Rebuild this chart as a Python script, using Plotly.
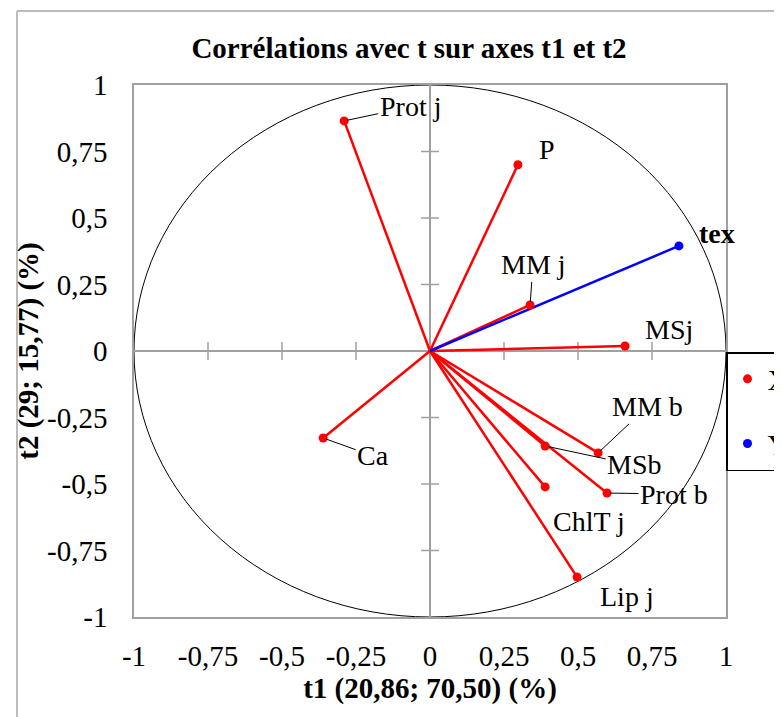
import plotly.graph_objects as go

# ---- data ----
var_names = ["Prot j", "P", "MM j", "MSj", "MM b", "MSb", "Prot b", "ChlT j", "Lip j", "Ca"]
var_t1 = [-0.290, 0.297, 0.338, 0.659, 0.568, 0.389, 0.598, 0.389, 0.497, -0.361]
var_t2 = [0.865, 0.700, 0.173, 0.019, -0.383, -0.357, -0.534, -0.511, -0.850, -0.327]

resp_names = ["tex"]
resp_t1 = [0.841]
resp_t2 = [0.395]

tick_vals = [-1, -0.75, -0.5, -0.25, 0, 0.25, 0.5, 0.75, 1]
tick_text = ["-1", "-0,75", "-0,5", "-0,25", "0", "0,25", "0,5", "0,75", "1"]

title_text = "Corrélations avec t sur axes t1 et t2"
x_title = "t1 (20,86; 70,50) (%)"
y_title = "t2 (29; 15,77) (%)"

# ---- styles / layout ----
FONT = "Liberation Serif"
RED = "#ff0000"
BLUE = "#0000ff"
GRID = "#a0a0a0"
W, H = 782, 717
OFF = 8                      # page body margin offset in the browser
PL, PT, PR, PB = 134, 85, 726, 617   # plot-area edges on screen
ML, MT = PL - OFF, PT - OFF
MR, MB = W + OFF - PR, H + OFF - PB
PW, PH = PR - PL, PB - PT

def px_to_paper_x(sx):
    return (sx - PL) / PW

def px_to_paper_y(sy):
    return (PB - sy) / PH

# label placement: name -> (dx px, dy px (down +), leader line?)
label_pos = {
    "Prot j": (66, -14, True),
    "P": (29, -15, False),
    "MM j": (3, -40, True),
    "MSj": (44, -16, False),
    "MM b": (49, -46, True),
    "MSb": (89, 19, True),
    "Prot b": (67, 1, True),
    "ChlT j": (44, 35, False),
    "Lip j": (50, 19, False),
    "Ca": (50, 18, True),
    "tex": (38, -12, False),
}

fig = go.Figure()

# cross tick marks on the zero lines
tx_half = 9 / PW * 2
ty_half = 9 / PH * 2
inner = [t for t in tick_vals if abs(t) not in (0, 1)]
tkx, tky = [], []
for t in inner:
    tkx += [t, t, None]
    tky += [-ty_half, ty_half, None]
for t in inner:
    tkx += [-tx_half, tx_half, None]
    tky += [t, t, None]
fig.add_trace(go.Scatter(x=tkx, y=tky, mode="lines",
                         line=dict(color=GRID, width=1.5),
                         hoverinfo="skip", showlegend=False))

def vec_lines(xs, ys):
    lx, ly = [], []
    for a, b in zip(xs, ys):
        lx += [0, a, None]
        ly += [0, b, None]
    return lx, ly

lx, ly = vec_lines(var_t1, var_t2)
fig.add_trace(go.Scatter(x=lx, y=ly, mode="lines", line=dict(color=RED, width=2.5),
                         hoverinfo="skip", showlegend=False, legendgroup="X"))
lx, ly = vec_lines(resp_t1, resp_t2)
fig.add_trace(go.Scatter(x=lx, y=ly, mode="lines", line=dict(color=BLUE, width=2.5),
                         hoverinfo="skip", showlegend=False, legendgroup="Y"))

fig.add_trace(go.Scatter(x=var_t1, y=var_t2, mode="markers", name="X",
                         text=var_names, legendgroup="X",
                         marker=dict(color=RED, size=9)))
fig.add_trace(go.Scatter(x=resp_t1, y=resp_t2, mode="markers", name="Y",
                         text=resp_names, legendgroup="Y",
                         marker=dict(color=BLUE, size=9)))

annotations = []
for names, xs, ys, bold in ((var_names, var_t1, var_t2, False),
                            (resp_names, resp_t1, resp_t2, True)):
    for n, a, b in zip(names, xs, ys):
        dx, dy, arrow = label_pos[n]
        f = dict(family=FONT, size=28, color="black", weight="bold" if bold else "normal")
        if arrow:
            annotations.append(dict(x=a, y=b, xref="x", yref="y", text=n, showarrow=True,
                                    ax=dx, ay=dy, arrowhead=0, arrowwidth=1,
                                    arrowcolor="black", standoff=3, font=f))
        else:
            annotations.append(dict(x=a, y=b, xref="x", yref="y", text=n, showarrow=False,
                                    xshift=dx, yshift=-dy, font=f))

axis_common = dict(
    range=[-1, 1], tickvals=tick_vals, ticktext=tick_text,
    showgrid=False, zeroline=True, zerolinecolor=GRID, zerolinewidth=1.5,
    showline=True, linecolor=GRID, linewidth=1.5, mirror=True,
    ticks="", tickfont=dict(family=FONT, size=29, color="black"),
    fixedrange=True,
)

fig.update_layout(
    width=W, height=H,
    margin=dict(l=ML, r=MR, t=MT, b=MB, autoexpand=False),
    paper_bgcolor="white", plot_bgcolor="white",
    font=dict(family=FONT, color="black"),
    title=dict(text=title_text, x=(409 - OFF) / W, xref="container", xanchor="center",
               y=1 - (48 - OFF) / H, yref="container", yanchor="middle",
               font=dict(family=FONT, size=29, color="black", weight="bold")),
    xaxis=dict(**axis_common, ticklabelstandoff=12,
               title=dict(text=x_title, standoff=4,
                          font=dict(family=FONT, size=29, color="black", weight="bold"))),
    yaxis=dict(**axis_common, ticklabelstandoff=19,
               title=dict(text=y_title, standoff=0,
                          font=dict(family=FONT, size=29, color="black", weight="bold"))),
    showlegend=True,
    legend=dict(x=1.0, xanchor="left", y=px_to_paper_y(352), yanchor="top",
                bordercolor="black", borderwidth=1.5, bgcolor="white",
                font=dict(family=FONT, size=29, color="black"),
                tracegroupgap=24, itemclick=False, itemdoubleclick=False),
    annotations=annotations,
    shapes=[
        dict(type="circle", xref="x", yref="y", x0=-1, x1=1, y0=-1, y1=1,
             line=dict(color="black", width=1), layer="below"),
        dict(type="line", xref="paper", yref="paper",
             x0=px_to_paper_x(17), x1=px_to_paper_x(17),
             y0=px_to_paper_y(11), y1=px_to_paper_y(740),
             line=dict(color="#a6a6a6", width=1.5)),
        dict(type="line", xref="paper", yref="paper",
             x0=px_to_paper_x(17), x1=px_to_paper_x(800),
             y0=px_to_paper_y(11), y1=px_to_paper_y(11),
             line=dict(color="#a6a6a6", width=1.5)),
    ],
)

fig.write_html("out.html")
